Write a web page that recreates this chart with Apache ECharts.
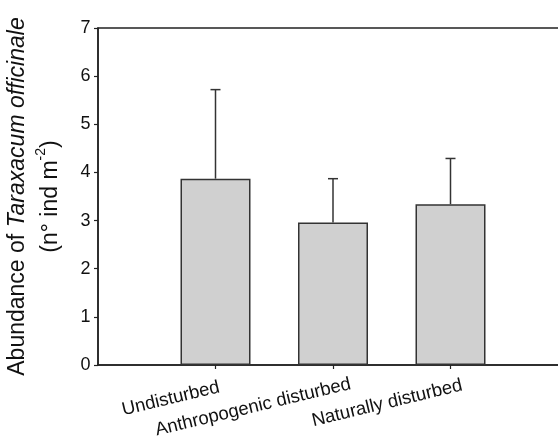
<!DOCTYPE html>
<html>
<head>
<meta charset="utf-8">
<script src="https://cdn.jsdelivr.net/npm/echarts@6/dist/echarts.min.js"></script>
<style>html,body{margin:0;padding:0;background:#fff}#c{width:558px;height:442px}</style>
</head>
<body>
<div id="c"></div>
<script>
const categories = ['Undisturbed', 'Anthropogenic disturbed', 'Naturally disturbed'];
const positions = [1, 2, 3];
const means = [3.87, 2.96, 3.34];
const upperErr = [5.72, 3.87, 4.29];
const yTicks = [0, 1, 2, 3, 4, 5, 6, 7];

const chart = echarts.init(document.getElementById('c'), null, {renderer: 'canvas'});
const font = '"Liberation Sans", Arial, Helvetica, sans-serif';
const axisColor = '#222';

const barData = positions.map((p, i) => [p, means[i]]);
const errData = positions.map((p, i) => [p, means[i], upperErr[i]]);

// per-label shift along the baseline (the original labels are not all anchored at the same point)
const labelRich = {
  c0: {fontSize: 18.5, fontFamily: font, color: '#111', padding: [0, -4, 0, 0]},
  c1: {fontSize: 18.5, fontFamily: font, color: '#111', padding: [0, -18, 0, 0]},
  c2: {fontSize: 18.5, fontFamily: font, color: '#111', padding: [0, -12, 0, 0]}
};

chart.setOption({
  animation: false,
  backgroundColor: '#fff',
  grid: {
    left: 98, top: 28, width: 470, height: 337,
    outerBoundsMode: 'none', containLabel: false,
    show: true, borderColor: axisColor, borderWidth: 1.5, backgroundColor: 'transparent'
  },
  xAxis: {
    type: 'value', min: 0, max: 4, interval: 1,
    splitLine: {show: false},
    axisLine: {show: true, lineStyle: {color: axisColor, width: 1.5}},
    axisTick: {show: true, length: 4, lineStyle: {color: axisColor, width: 1.2}, customValues: positions},
    axisLabel: {
      customValues: positions,
      formatter: v => {
        const i = positions.indexOf(v);
        return i >= 0 ? '{c' + i + '|' + categories[i] + '}' : '';
      },
      rich: labelRich,
      rotate: 13.5, margin: 23, fontSize: 18.5, color: '#111', fontFamily: font
    }
  },
  yAxis: {
    type: 'value', min: 0, max: 7, interval: 1,
    splitLine: {show: false},
    axisLine: {show: true, lineStyle: {color: axisColor, width: 1.5}},
    axisTick: {show: true, length: 4, lineStyle: {color: axisColor, width: 1.2}},
    axisLabel: {
      margin: 7.5, fontSize: 18, color: '#111', fontFamily: font,
      formatter: v => yTicks.indexOf(v) >= 0 ? String(v) : ''
    },
    name: '{a|Abundance of }{i|Taraxacum officinale}\n{a|(n° ind m}{s|-2}{a|)}',
    nameLocation: 'middle', nameRotate: 90, nameGap: 31,
    nameTextStyle: {
      fontFamily: font, color: '#111', align: 'center',
      rich: {
        a: {fontSize: 23, fontFamily: font, color: '#111', lineHeight: 33},
        i: {fontSize: 23, fontFamily: font, color: '#111', fontStyle: 'italic', lineHeight: 33},
        s: {fontSize: 14, fontFamily: font, color: '#111', verticalAlign: 'top', lineHeight: 33}
      }
    }
  },
  series: [
    {
      type: 'bar', data: barData, barWidth: 70,
      itemStyle: {color: '#d0d0d0', borderColor: '#333', borderWidth: 1.5},
      z: 2
    },
    {
      type: 'custom', data: errData, z: 3,
      renderItem: function (params, api) {
        const x = api.value(0);
        const base = api.coord([x, api.value(1)]);
        const top = api.coord([x, api.value(2)]);
        const cap = 5;
        const style = {stroke: '#333', lineWidth: 1.5, fill: null};
        return {
          type: 'group',
          children: [
            {type: 'line', shape: {x1: base[0], y1: base[1], x2: top[0], y2: top[1]}, style: style},
            {type: 'line', shape: {x1: top[0] - cap, y1: top[1], x2: top[0] + cap, y2: top[1]}, style: style}
          ]
        };
      }
    }
  ]
});
</script>
</body>
</html>
